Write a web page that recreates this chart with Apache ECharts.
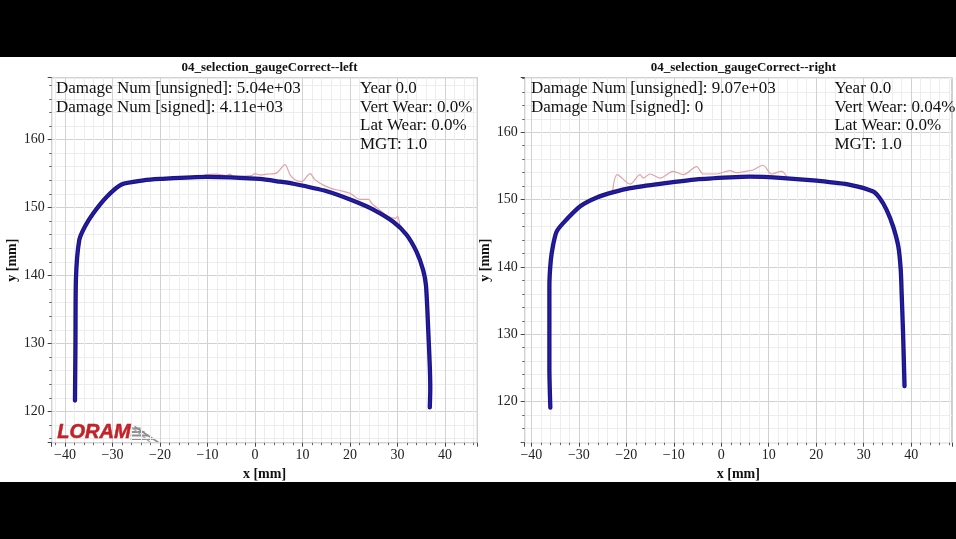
<!DOCTYPE html>
<html>
<head>
<meta charset="utf-8">
<script src="https://cdn.jsdelivr.net/npm/echarts@6/dist/echarts.min.js"></script>
<style>
html,body{margin:0;padding:0;background:#fff;}
#c{width:956px;height:539px;}
</style>
</head>
<body>
<div id="c"></div>
<script>
// ---- data ----
const leftProfileX = [-37.9,-37.8,-37.7,-37.0,-35.8,-34.0,-31.2,-28.1,-23.5,-20.0,-10.2,1.0,5.3,8.1,15.1,20.7,24.9,29.1,31.9,34.0,35.4,36.0,36.5,36.8,36.9,36.8];
const leftProfileY = [121.6,130.0,139.4,145.2,147.2,149.2,151.6,153.4,154.0,154.2,154.5,154.2,153.8,153.5,152.4,151.0,149.7,147.9,146.0,143.5,140.8,138.5,131.5,126.6,123.5,120.6];
const leftMeasX = [-10.9,-10.5,-8.1,-6.0,-5.3,-4.6,-0.7,0.0,1.0,2.5,4.6,6.3,7.4,8.4,9.8,11.6,12.6,14.4,16.5,17.9,20.0,22.1,23.9,24.6,26.0,28.0,29.6,30.0,30.5];
const leftMeasY = [154.5,154.8,154.9,154.7,154.9,154.6,154.7,155.0,154.8,154.9,155.1,156.3,154.8,154.1,153.8,155.0,154.1,153.3,152.7,152.5,152.1,151.2,151.2,150.6,149.8,148.7,148.4,148.7,147.4];

const rightProfileX = [-36.0,-36.2,-36.2,-36.2,-35.9,-35.4,-34.7,-33.3,-29.7,-26.2,-22.7,-19.2,-12.2,-5.2,1.8,6.0,13.1,20.1,27.1,32.0,33.4,34.8,36.2,37.3,37.8,38.0,38.3,38.6];
const rightProfileY = [119.1,125.0,131.1,137.1,141.0,143.3,145.2,146.5,149.0,150.3,151.1,151.7,152.4,153.0,153.3,153.4,153.2,152.8,152.2,151.2,150.2,148.5,146.0,143.0,139.6,136.0,130.0,122.3];
const rightMeasX = [-22.9,-21.9,-19.2,-17.1,-16.4,-15.0,-12.9,-10.1,-8.0,-5.2,-3.8,-1.0,1.8,3.2,6.0,6.7,8.8,10.6,12.7,13.8];
const rightMeasY = [151.1,153.7,152.3,153.7,153.2,153.8,153.2,154.2,153.7,154.9,153.8,153.8,154.3,154.0,154.3,154.4,155.1,153.8,154.2,153.4];

const titles = ['04_selection_gaugeCorrect--left','04_selection_gaugeCorrect--right'];
const leftNotesA = ['Damage Num [unsigned]: 5.04e+03','Damage Num [signed]: 4.11e+03'];
const leftNotesB = ['Year 0.0','Vert Wear: 0.0%','Lat Wear: 0.0%','MGT: 1.0'];
const rightNotesA = ['Damage Num [unsigned]: 9.07e+03','Damage Num [signed]: 0'];
const rightNotesB = ['Year 0.0','Vert Wear: 0.04%','Lat Wear: 0.0%','MGT: 1.0'];
const xRanges = [[-42.8,46.8],[-41.4,48.6]];
const yRanges = [[115.4,169.1],[113.9,168.1]];

// ---- build ----
const pairs = (xs, ys) => xs.map((x, i) => [x, ys[i]]);
const SERIF = 'Liberation Serif';
const grids = [
  {left:51.7, top:77.7, width:425.6, height:365},
  {left:524.7, top:77.7, width:427.3, height:365}
];
function xAx(i){
  return {
    type:'value', gridIndex:i, min:xRanges[i][0], max:xRanges[i][1], splitNumber:9,
    name:'x [mm]', nameLocation:'middle', nameGap:18,
    nameTextStyle:{fontFamily:SERIF, fontWeight:'bold', fontSize:14, color:'#111'},
    axisLine:{show:false, onZero:false},
    axisTick:{show:true, inside:false, length:4, lineStyle:{color:'#444'}},
    minorTick:{show:true, splitNumber:5, length:2.5, lineStyle:{color:'#666'}},
    axisLabel:{showMinLabel:false, showMaxLabel:false, margin:6, fontFamily:SERIF, fontSize:14, color:'#222',
      formatter:v => (v<0 ? '\u2212'+Math.abs(v) : String(v))},
    splitLine:{show:true, lineStyle:{color:'#d2d2d2', width:1}},
    minorSplitLine:{show:true, lineStyle:{color:'#ededed', width:1}}
  };
}
function yAx(i){
  return {
    type:'value', gridIndex:i, min:yRanges[i][0], max:yRanges[i][1], splitNumber:5,
    name:'y [mm]', nameLocation:'middle', nameGap: i===0?30:28, nameRotate:90,
    nameTextStyle:{fontFamily:SERIF, fontWeight:'bold', fontSize:14, color:'#111'},
    axisLine:{show:false, onZero:false},
    axisTick:{show:true, inside:false, length:4, lineStyle:{color:'#444'}},
    minorTick:{show:true, splitNumber:5, length:2.5, lineStyle:{color:'#666'}},
    axisLabel:{showMinLabel:false, showMaxLabel:false, margin:7, fontFamily:SERIF, fontSize:14, color:'#222'},
    splitLine:{show:true, lineStyle:{color:'#d2d2d2', width:1}},
    minorSplitLine:{show:true, lineStyle:{color:'#ededed', width:1}}
  };
}
function measSeries(i, xs, ys){
  return {type:'line', xAxisIndex:i, yAxisIndex:i, data:pairs(xs,ys), showSymbol:false, smooth:0.3,
    lineStyle:{color:'#e2a2a6', width:1.2}, z:2, silent:true};
}
function profSeries(i, xs, ys){
  return [
    {type:'line', xAxisIndex:i, yAxisIndex:i, data:pairs(xs,ys), showSymbol:false, smooth:0.25,
      lineStyle:{color:'#1d1387', width:4.3, cap:'round', join:'round'}, z:3, silent:true},
    {type:'line', xAxisIndex:i, yAxisIndex:i, data:pairs(xs,ys), showSymbol:false, smooth:0.25,
      lineStyle:{color:'rgba(50,60,220,0.35)', width:1.4, cap:'round'}, z:4, silent:true}
  ];
}
function notes(lines, x, y0){
  return lines.map((t, k) => ({type:'text', left:x, top:y0 + k*18.7, z:10,
    style:{text:t, fontFamily:SERIF, fontSize:17, fill:'#111'}}));
}
const gfx = [
  {type:'rect', left:0, top:0, shape:{width:956, height:57}, style:{fill:'#000'}, z:20},
  {type:'rect', left:0, top:482, shape:{width:956, height:57}, style:{fill:'#000'}, z:20},
  ...notes(leftNotesA, 56, 80), ...notes(leftNotesB, 360, 80),
  ...notes(rightNotesA, 531, 80), ...notes(rightNotesB, 834.5, 80),
  {type:'text', left:57, top:422, z:10, style:{text:'LORAM', fontFamily:'Liberation Sans', fontWeight:'bold', fontStyle:'italic', fontSize:20, fill:'#c62127', stroke:'#9e1a1f', lineWidth:0.5}},
  {type:'group', left:128, top:424, z:10, children:[
    {type:'line', shape:{x1:2,y1:2,x2:10,y2:2}, style:{stroke:'#8f8f8f', lineWidth:2}},
    {type:'line', shape:{x1:1,y1:5.5,x2:14,y2:5.5}, style:{stroke:'#8f8f8f', lineWidth:2}},
    {type:'line', shape:{x1:0,y1:9,x2:18,y2:9}, style:{stroke:'#8f8f8f', lineWidth:2}},
    {type:'line', shape:{x1:0,y1:12.5,x2:22,y2:12.5}, style:{stroke:'#8f8f8f', lineWidth:2}},
    {type:'line', shape:{x1:4,y1:0,x2:28,y2:16}, style:{stroke:'#8f8f8f', lineWidth:1.6}},
    {type:'line', shape:{x1:0,y1:0,x2:20,y2:16}, style:{stroke:'#a5a5a5', lineWidth:1.2}}
  ]}
];

const chart = echarts.init(document.getElementById('c'), null, {renderer:'canvas'});
chart.setOption({
  backgroundColor:'#fff',
  animation:false,
  title:[
    {text:titles[0], left:264.5, top:56, textAlign:'center', textStyle:{fontFamily:SERIF, fontWeight:'bold', fontSize:13, color:'#111'}},
    {text:titles[1], left:738.4, top:56, textAlign:'center', textStyle:{fontFamily:SERIF, fontWeight:'bold', fontSize:13, color:'#111'}}
  ],
  grid:grids.map(g => Object.assign({show:true, borderColor:'#9a9a9a', borderWidth:1, backgroundColor:'transparent'}, g)),
  xAxis:[xAx(0), xAx(1)],
  yAxis:[yAx(0), yAx(1)],
  series:[
    measSeries(0, leftMeasX, leftMeasY), ...profSeries(0, leftProfileX, leftProfileY),
    measSeries(1, rightMeasX, rightMeasY), ...profSeries(1, rightProfileX, rightProfileY)
  ],
  graphic:gfx
});
</script>
</body>
</html>
